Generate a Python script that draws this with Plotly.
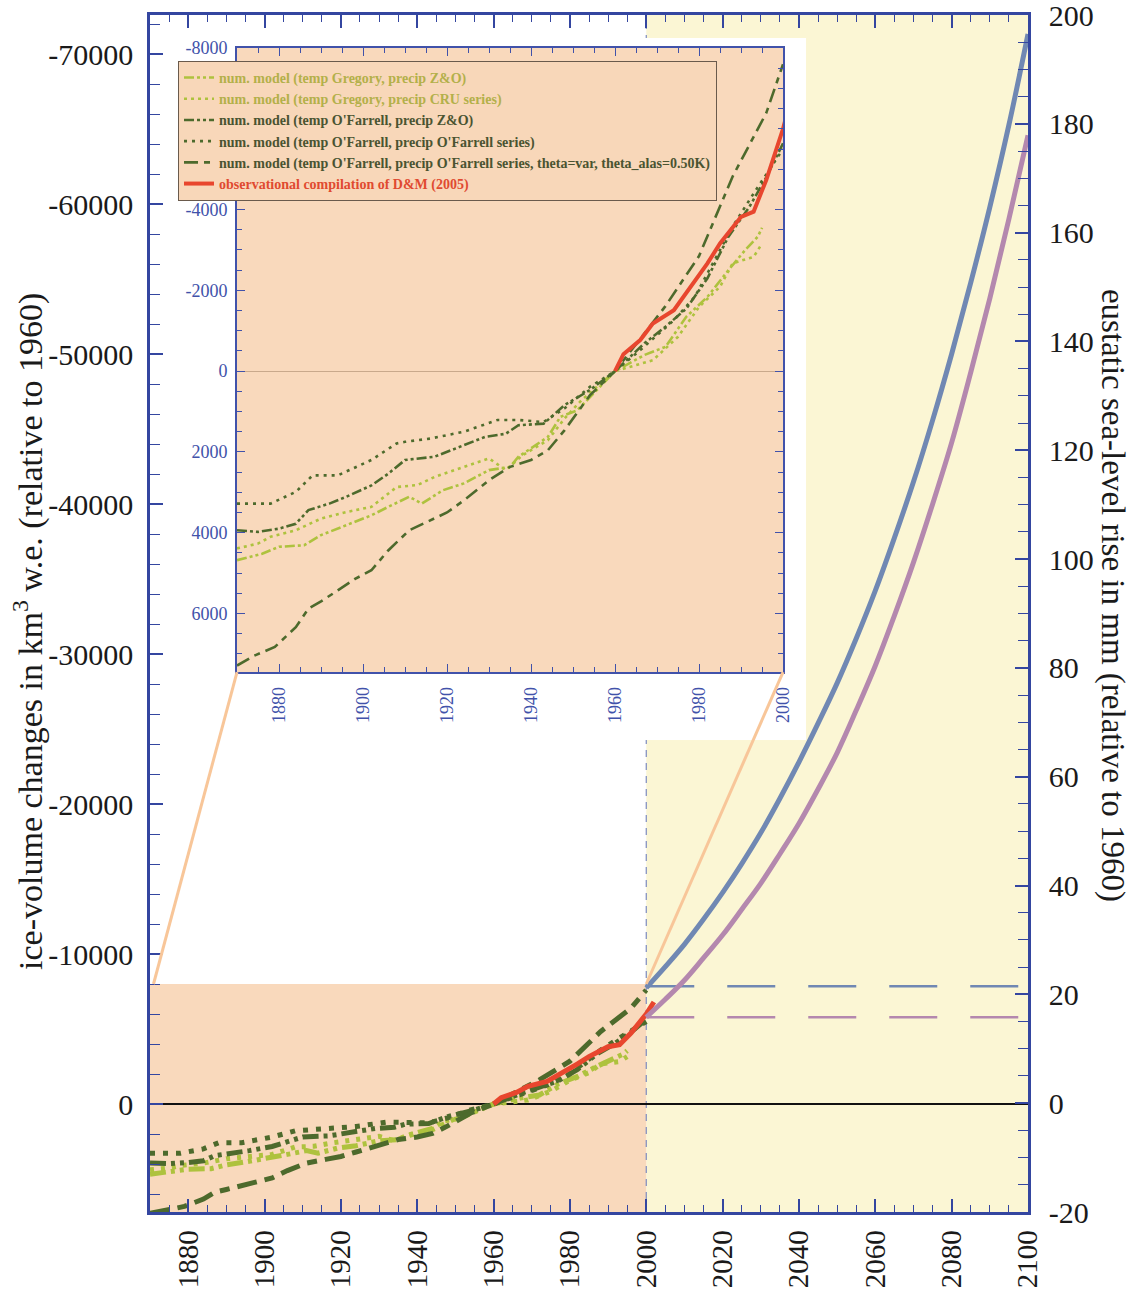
import plotly.graph_objects as go

# ---------------- data ----------------
# glacier ice-volume change (km3 w.e., relative to 1960); negative = loss
GZ_YEARS = [1870, 1876, 1880, 1886, 1890, 1896, 1902, 1906, 1911, 1914, 1919, 1924, 1930, 1935, 1937,
            1944, 1947, 1951, 1954, 1960, 1967, 1972, 1977, 1982, 1987, 1991, 1994, 1995]
GZ_VALS = [4680, 4520, 4350, 4310, 4060, 3820, 3570, 3360, 3110, 3280, 2950, 2780, 2450, 2370, 2120,
           1630, 1130, 970, 640, 0, -400, -600, -1350, -1840, -2500, -3000, -3330, -3550]

GC_YEARS = [1870, 1875, 1878, 1884, 1890, 1896, 1902, 1908, 1913, 1917, 1924, 1930, 1934, 1938, 1944,
            1948, 1952, 1960, 1969, 1975, 1980, 1985, 1988, 1993, 1995]
GC_VALS = [4390, 4270, 4100, 3940, 3650, 3490, 3360, 2870, 2820, 2620, 2370, 2160, 2450, 2080, 1710,
           1170, 720, 0, -270, -850, -1590, -2090, -2670, -2830, -3160]

OZ_YEARS = [1870, 1875, 1880, 1884, 1887, 1892, 1896, 1902, 1906, 1910, 1917, 1922, 1929, 1934, 1937,
            1943, 1948, 1954, 1960, 1967, 1972, 1977, 1982, 1987, 1992, 1996, 2000]
OZ_VALS = [3940, 3980, 3900, 3780, 3440, 3280, 3110, 2830, 2540, 2200, 2120, 1920, 1630, 1550, 1340,
           1300, 840, 470, 0, -690, -1100, -1550, -2300, -3330, -4070, -4800, -5640]

OO_YEARS = [1870, 1878, 1884, 1888, 1894, 1902, 1908, 1910, 1916, 1924, 1932, 1937, 1943, 1948, 1954,
            1960, 1966, 1974, 1979, 1985, 1988, 1993, 2000]
OO_VALS = [3280, 3280, 2990, 2580, 2580, 2200, 1790, 1750, 1670, 1500, 1210, 1210, 1260, 920, 390,
           0, -520, -1260, -1840, -3000, -3580, -4400, -5500]

TH_YEARS = [1870, 1874, 1879, 1884, 1887, 1890, 1894, 1898, 1902, 1906, 1911, 1916, 1920, 1924, 1930,
            1935, 1940, 1944, 1948, 1954, 1960, 1966, 1972, 1980, 1988, 1996, 2000]
TH_VALS = [7290, 7050, 6830, 6340, 5880, 5700, 5430, 5150, 4930, 4440, 3940, 3690, 3500, 3200, 2700,
           2370, 2200, 1960, 1460, 600, 0, -800, -1610, -2850, -4820, -6390, -7600]

DM_YEARS = [1960, 1962, 1966, 1969, 1974, 1977, 1982, 1985, 1990, 1993, 1996, 2000, 2002]
DM_VALS = [0, -420, -770, -1180, -1510, -1930, -2670, -3160, -3820, -3950, -4730, -6000, -6800]

# projections: eustatic sea-level rise (mm, relative to 1960)
PROJ_YEARS = [2000, 2005, 2010, 2015, 2020, 2025, 2030, 2035, 2040, 2045, 2050, 2055, 2060, 2065,
              2070, 2075, 2080, 2085, 2090, 2095, 2100]
BLUE_MM = [21.2, 25.1, 29.2, 33.8, 38.7, 44.0, 49.7, 56.0, 62.7, 69.8, 77.2, 85.4, 94.2, 103.9,
           114.2, 125.5, 137.7, 150.8, 164.7, 179.8, 196.5]
PURPLE_MM = [15.8, 19.1, 22.6, 26.7, 30.9, 35.6, 40.4, 45.8, 51.4, 57.7, 64.4, 72.2, 80.4, 89.6,
             99.4, 110.1, 121.4, 134.3, 147.9, 162.5, 177.9]
BASE_YEARS = [2000, 2100]
BLUE_BASE = [21.5, 21.5]
PURPLE_BASE = [15.8, 15.8]

# tick labels
MAIN_X_TICKS = [1880, 1900, 1920, 1940, 1960, 1980, 2000, 2020, 2040, 2060, 2080, 2100]
MAIN_Y_TICKVALS = [-70000, -60000, -50000, -40000, -30000, -20000, -10000, 0]
MAIN_Y_TICKTEXT = ["-70000", "-60000", "-50000", "-40000", "-30000", "-20000", "-10000", "0"]
RIGHT_TICKVALS = [-20, 0, 20, 40, 60, 80, 100, 120, 140, 160, 180, 200]
RIGHT_TICKTEXT = ["-20", "0", "20", "40", "60", "80", "100", "120", "140", "160", "180", "200"]
INSET_X_TICKS = [1880, 1900, 1920, 1940, 1960, 1980, 2000]
INSET_Y_TICKVALS = [-8000, -4000, -2000, 0, 2000, 4000, 6000]
INSET_Y_TICKTEXT = ["-8000", "-4000", "-2000", "0", "2000", "4000", "6000"]

# ---------------- style ----------------
W, H = 1141, 1297
FONT = "Liberation Serif"
AXC = "#3446A0"
INC = "#4152AA"
YG = "#AEC23E"
DG = "#4D6A2C"
RED = "#E8462E"
BLUE = "#7088B3"
PURP = "#B488AE"
ORANGE_BG = "#F9D9BC"
YELLOW_BG = "#FBF6D4"

X_RANGE = [1870, 2100]
Y_RANGE = [7200, -72600]
Y2_RANGE = [-20, 200]
IX_RANGE = [1870, 2000]
IY_RANGE = [7450, -8000]
INSET_DOM_X = [0.0991, 0.7210]
INSET_DOM_Y = [0.4511, 0.9724]
BOX_DOM_X = [0.50, 0.7472]
BOX_DOM_Y = [0.3943, 0.9808]

series = [
    ("num. model (temp Gregory, precip Z&O)", GZ_YEARS, GZ_VALS, YG, "16px,5px,4px,5px,4px,5px", "10px,3px,3px,3px,3px,3px", "#B3B04A"),
    ("num. model (temp Gregory, precip CRU series)", GC_YEARS, GC_VALS, YG, "4px,7px", "3px,4px", "#B3B04A"),
    ("num. model (temp O'Farrell, precip Z&O)", OZ_YEARS, OZ_VALS, DG, "16px,5px,4px,5px,4px,5px", "10px,3px,3px,3px,3px,3px", "#4A5431"),
    ("num. model (temp O'Farrell, precip O'Farrell series)", OO_YEARS, OO_VALS, DG, "5px,8px", "3px,5px", "#4A5431"),
    ("num. model (temp O'Farrell, precip O'Farrell series, theta=var, theta_alas=0.50K)", TH_YEARS, TH_VALS, DG, "20px,8px,10px,8px", "14px,6px,6px,6px", "#4A5431"),
    ("observational compilation of D&M (2005)", DM_YEARS, DM_VALS, RED, "solid", "solid", "#E04A30"),
]

fig = go.Figure()

# box (white background behind inset) subplot
fig.add_trace(go.Scatter(x=[0, 1, 1, 0, 0], y=[0, 0, 1, 1, 0], xaxis="x3", yaxis="y3",
                         fill="toself", fillcolor="white", mode="lines", line=dict(width=0),
                         hoverinfo="skip", showlegend=False))

# main traces
for name, xs, ys, col, dmain, dins, tcol in series:
    fig.add_trace(go.Scatter(x=xs, y=ys, mode="lines", xaxis="x", yaxis="y",
                             line=dict(color=col, width=5, dash=dmain),
                             showlegend=False, hoverinfo="skip"))

fig.add_trace(go.Scatter(x=BASE_YEARS, y=BLUE_BASE, mode="lines", xaxis="x", yaxis="y2",
                         line=dict(color=BLUE, width=2.5, dash="48px,33px"), showlegend=False))
fig.add_trace(go.Scatter(x=BASE_YEARS, y=PURPLE_BASE, mode="lines", xaxis="x", yaxis="y2",
                         line=dict(color=PURP, width=2.5, dash="48px,33px"), showlegend=False))
fig.add_trace(go.Scatter(x=PROJ_YEARS, y=PURPLE_MM, mode="lines", xaxis="x", yaxis="y2",
                         line=dict(color=PURP, width=5, shape="spline"), showlegend=False))
fig.add_trace(go.Scatter(x=PROJ_YEARS, y=BLUE_MM, mode="lines", xaxis="x", yaxis="y2",
                         line=dict(color=BLUE, width=5, shape="spline"), showlegend=False))

# inset traces (with legend)
for name, xs, ys, col, dmain, dins, tcol in series:
    fig.add_trace(go.Scatter(x=xs, y=ys, mode="lines", xaxis="x4", yaxis="y4",
                             line=dict(color=col, width=4 if col == RED else 2.6, dash=dins),
                             name='<b><span style="color:%s">%s</span></b>' % (tcol, name),
                             showlegend=True, hoverinfo="skip"))

# ---------------- shapes ----------------
shapes = [
    dict(type="rect", xref="x", yref="y", x0=2000, x1=2100, y0=Y_RANGE[0], y1=Y_RANGE[1],
         fillcolor=YELLOW_BG, line=dict(width=0), layer="below"),
    dict(type="rect", xref="x", yref="y", x0=1870, x1=2000, y0=Y_RANGE[0], y1=IY_RANGE[1],
         fillcolor=ORANGE_BG, line=dict(width=0), layer="below"),
    dict(type="line", xref="x", yref="y", x0=2000, x1=2000, y0=Y_RANGE[0], y1=Y_RANGE[1],
         line=dict(color="#7C8CBF", width=1.2, dash="7px,6px"), layer="below"),
    dict(type="rect", xref="x4", yref="y4", x0=IX_RANGE[0], x1=IX_RANGE[1], y0=IY_RANGE[0], y1=IY_RANGE[1],
         fillcolor=ORANGE_BG, line=dict(width=0), layer="below"),
]


def main_to_paper(xv, yv):
    px = (xv - X_RANGE[0]) / (X_RANGE[1] - X_RANGE[0])
    py = (yv - Y_RANGE[0]) / (Y_RANGE[1] - Y_RANGE[0])
    return px, py


lx, ly = main_to_paper(1870, IY_RANGE[1])
rx, ry = main_to_paper(2000, IY_RANGE[1])
shapes.append(dict(type="line", xref="paper", yref="paper", x0=lx + 0.004, y0=ly, x1=INSET_DOM_X[0], y1=INSET_DOM_Y[0],
                   line=dict(color="#F8C699", width=3), layer="above"))
shapes.append(dict(type="line", xref="paper", yref="paper", x0=rx, y0=ry, x1=INSET_DOM_X[1], y1=INSET_DOM_Y[0],
                   line=dict(color="#F8C699", width=3), layer="above"))

tickfont_main = dict(family=FONT, size=30, color="#1a1a1a")
tickfont_x = dict(family=FONT, size=29, color="#1a1a1a")
tickfont_in = dict(family=FONT, size=18, color=INC)

fig.update_layout(
    width=W, height=H,
    margin=dict(l=150, r=113, t=15, b=85, autoexpand=False),
    paper_bgcolor="white", plot_bgcolor="white",
    shapes=shapes,
    xaxis=dict(range=X_RANGE, domain=[0, 1], anchor="y", tickmode="array", tickvals=MAIN_X_TICKS,
               ticktext=[str(v) for v in MAIN_X_TICKS], tickangle=-90, automargin=False,
               ticks="inside", ticklen=13, tickwidth=1.6, tickcolor=AXC,
               minor=dict(dtick=5, tick0=1870, ticks="inside", ticklen=7, tickwidth=1.3, tickcolor=AXC),
               showline=True, linecolor=AXC, linewidth=2.5, mirror="ticks", showgrid=False, zeroline=False,
               tickfont=tickfont_x, ticklabelstandoff=4, ticklabeloverflow="allow"),
    yaxis=dict(range=Y_RANGE, domain=[0, 1], anchor="x", tickmode="array", tickvals=MAIN_Y_TICKVALS,
               ticktext=MAIN_Y_TICKTEXT, ticks="inside", ticklen=13, tickwidth=1.6, tickcolor=AXC,
               minor=dict(dtick=2000, tick0=0, ticks="inside", ticklen=10, tickwidth=1.3, tickcolor=AXC),
               showline=True, linecolor=AXC, linewidth=2.5, showgrid=False, automargin=False,
               zeroline=True, zerolinecolor="#111111", zerolinewidth=2,
               tickfont=tickfont_main, ticklabelstandoff=8, ticklabeloverflow="allow"),
    yaxis2=dict(range=Y2_RANGE, overlaying="y", side="right", anchor="x", tickmode="array",
                tickvals=RIGHT_TICKVALS, ticktext=RIGHT_TICKTEXT, ticks="inside", ticklen=13, tickwidth=1.6,
                tickcolor=AXC, automargin=False, ticklabeloverflow="allow",
                minor=dict(dtick=5, tick0=0, ticks="inside", ticklen=10, tickwidth=1.3, tickcolor=AXC),
                showline=True, linecolor=AXC, linewidth=2.5, showgrid=False, zeroline=False,
                tickfont=tickfont_main, ticklabelstandoff=12),
    xaxis3=dict(domain=BOX_DOM_X, anchor="y3", range=[0, 1], visible=False, fixedrange=True, automargin=False),
    yaxis3=dict(domain=BOX_DOM_Y, anchor="x3", range=[0, 1], visible=False, fixedrange=True, automargin=False),
    xaxis4=dict(domain=INSET_DOM_X, anchor="y4", range=IX_RANGE, tickmode="array", tickvals=INSET_X_TICKS,
                ticktext=[str(v) for v in INSET_X_TICKS], tickangle=-90, automargin=False,
                ticks="inside", ticklen=8, tickwidth=1.2, tickcolor=INC,
                minor=dict(dtick=5, tick0=1870, ticks="inside", ticklen=5, tickwidth=1, tickcolor=INC),
                showline=True, linecolor=INC, linewidth=1.6, mirror="ticks", showgrid=False, zeroline=False,
                tickfont=tickfont_in, ticklabelstandoff=6),
    yaxis4=dict(domain=INSET_DOM_Y, anchor="x4", range=IY_RANGE, tickmode="array", tickvals=INSET_Y_TICKVALS,
                ticktext=INSET_Y_TICKTEXT, ticks="inside", ticklen=8, tickwidth=1.2, tickcolor=INC,
                minor=dict(dtick=500, tick0=0, ticks="inside", ticklen=5, tickwidth=1, tickcolor=INC),
                showline=True, linecolor=INC, linewidth=1.6, mirror="ticks", showgrid=False, automargin=False,
                zeroline=True, zerolinecolor="#C9A98C", zerolinewidth=1,
                tickfont=tickfont_in, ticklabelstandoff=4),
    legend=dict(x=0.0319, y=0.9616, xanchor="left", yanchor="top", bgcolor="#F8D7B9",
                bordercolor="#6A5A4C", borderwidth=1, font=dict(family=FONT, size=14, color="#4A5431"),
                itemwidth=30, tracegroupgap=0, traceorder="normal"),
    annotations=[
        dict(text="ice-volume changes in km<sup>3</sup> w.e. (relative to 1960)", xref="paper", yref="paper",
             x=-0.1378, y=0.4846, textangle=-90, showarrow=False, xanchor="center", yanchor="middle",
             font=dict(family=FONT, size=34, color="#1a1a1a")),
        dict(text="eustatic sea-level rise in mm (relative to 1960)", xref="paper", yref="paper",
             x=1.0957, y=0.5155, textangle=90, showarrow=False, xanchor="center", yanchor="middle",
             font=dict(family=FONT, size=33, color="#1a1a1a")),
    ],
    showlegend=True,
)

fig.write_html("out.html", config={"displayModeBar": False},
               post_script="document.body.style.margin='0px';")
